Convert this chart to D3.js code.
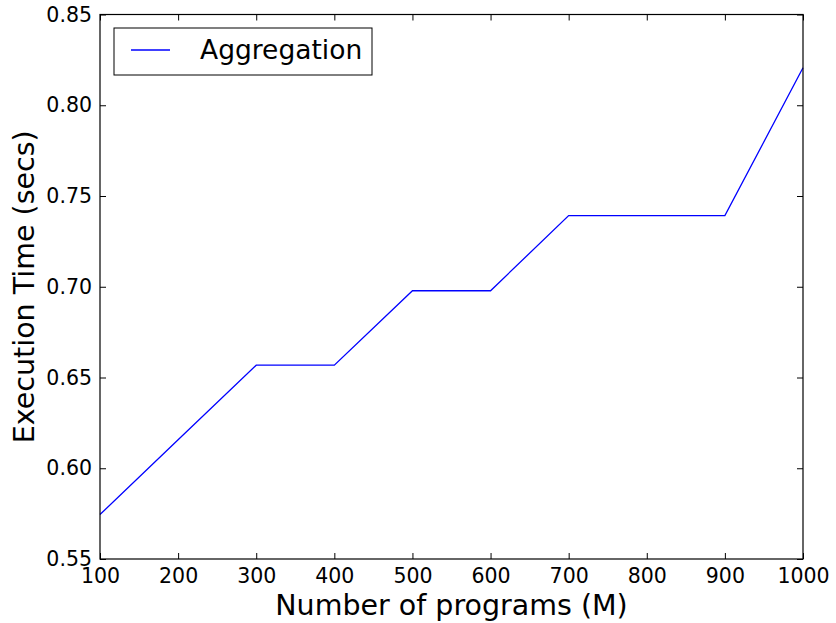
<!DOCTYPE html>
<html>
<head>
<meta charset="utf-8">
<script src="https://cdn.jsdelivr.net/npm/d3@7"></script>
<style>
  html, body { margin: 0; padding: 0; background: #fff; }
  svg { display: block; font-family: "DejaVu Sans", sans-serif; }
</style>
</head>
<body>
<svg id="chart" width="836" height="623"></svg>
<script>
// Execution time of the aggregation step by number of programs
const programs = [100, 200, 300, 400, 500, 600, 700, 800, 900, 1000];
const aggregationTime = [0.5745, 0.6157, 0.6568, 0.6568, 0.6978, 0.6978, 0.7392, 0.7392, 0.7392, 0.8207];
const xTicks = [100, 200, 300, 400, 500, 600, 700, 800, 900, 1000];
const yTicks = [0.55, 0.60, 0.65, 0.70, 0.75, 0.80, 0.85];
const seriesName = "Aggregation";

const margin = { left: 100, right: 33, top: 14.5, bottom: 64 };
const W = 836, H = 623;
const svg = d3.select("#chart");

const x = d3.scaleLinear().domain([100, 1000]).range([margin.left, W - margin.right]);
const y = d3.scaleLinear().domain([0.55, 0.85]).range([H - margin.bottom, margin.top]);

const tickLen = 6;
const fontSize = 20.5;

// data line
const line = d3.line().x((d, i) => x(programs[i])).y(d => y(d));
svg.append("path")
  .datum(aggregationTime)
  .attr("d", line)
  .attr("fill", "none")
  .attr("stroke", "#0000ff")
  .attr("stroke-width", 1.3);

// axes with inward ticks on all four sides
const axBottom = svg.append("g").attr("transform", `translate(0,${y(0.55)})`)
  .call(d3.axisBottom(x).tickValues(xTicks).tickSizeInner(-tickLen).tickSizeOuter(0).tickFormat(d3.format("d")));
const axTop = svg.append("g").attr("transform", `translate(0,${y(0.85)})`)
  .call(d3.axisTop(x).tickValues(xTicks).tickSizeInner(-tickLen).tickSizeOuter(0).tickFormat(""));
const axLeft = svg.append("g").attr("transform", `translate(${x(100)},0)`)
  .call(d3.axisLeft(y).tickValues(yTicks).tickSizeInner(-tickLen).tickSizeOuter(0).tickPadding(8).tickFormat(d3.format(".2f")));
const axRight = svg.append("g").attr("transform", `translate(${x(1000)},0)`)
  .call(d3.axisRight(y).tickValues(yTicks).tickSizeInner(-tickLen).tickSizeOuter(0).tickFormat(""));

[axBottom, axTop, axLeft, axRight].forEach(g => {
  g.select(".domain").remove();
  g.selectAll(".tick line").attr("stroke", "#000").attr("stroke-width", 1);
  g.selectAll("text").attr("fill", "#000").style("font-size", fontSize + "px").style("font-family", "DejaVu Sans, sans-serif");
});
axBottom.selectAll("text").attr("y", 23.5).attr("dy", 0);

// plot frame
svg.append("rect")
  .attr("x", x(100)).attr("y", y(0.85))
  .attr("width", x(1000) - x(100)).attr("height", y(0.55) - y(0.85))
  .attr("fill", "none").attr("stroke", "#000").attr("stroke-width", 1.2);

// axis titles
svg.append("text")
  .attr("x", (x(100) + x(1000)) / 2).attr("y", 615)
  .attr("text-anchor", "middle")
  .style("font-size", "28.5px")
  .text("Number of programs (M)");
svg.append("text")
  .attr("transform", `translate(34,${(y(0.55) + y(0.85)) / 2}) rotate(-90)`)
  .attr("text-anchor", "middle")
  .style("font-size", "28.5px")
  .text("Execution Time (secs)");

// legend
const lg = svg.append("g");
lg.append("rect")
  .attr("x", 114).attr("y", 28).attr("width", 258).attr("height", 47)
  .attr("fill", "#fff").attr("stroke", "#000").attr("stroke-width", 1);
lg.append("line")
  .attr("x1", 131).attr("x2", 170).attr("y1", 50).attr("y2", 50)
  .attr("stroke", "#0000ff").attr("stroke-width", 1.3);
lg.append("text")
  .attr("x", 200).attr("y", 58.5)
  .style("font-size", "26.5px")
  .text(seriesName);
</script>
</body>
</html>
